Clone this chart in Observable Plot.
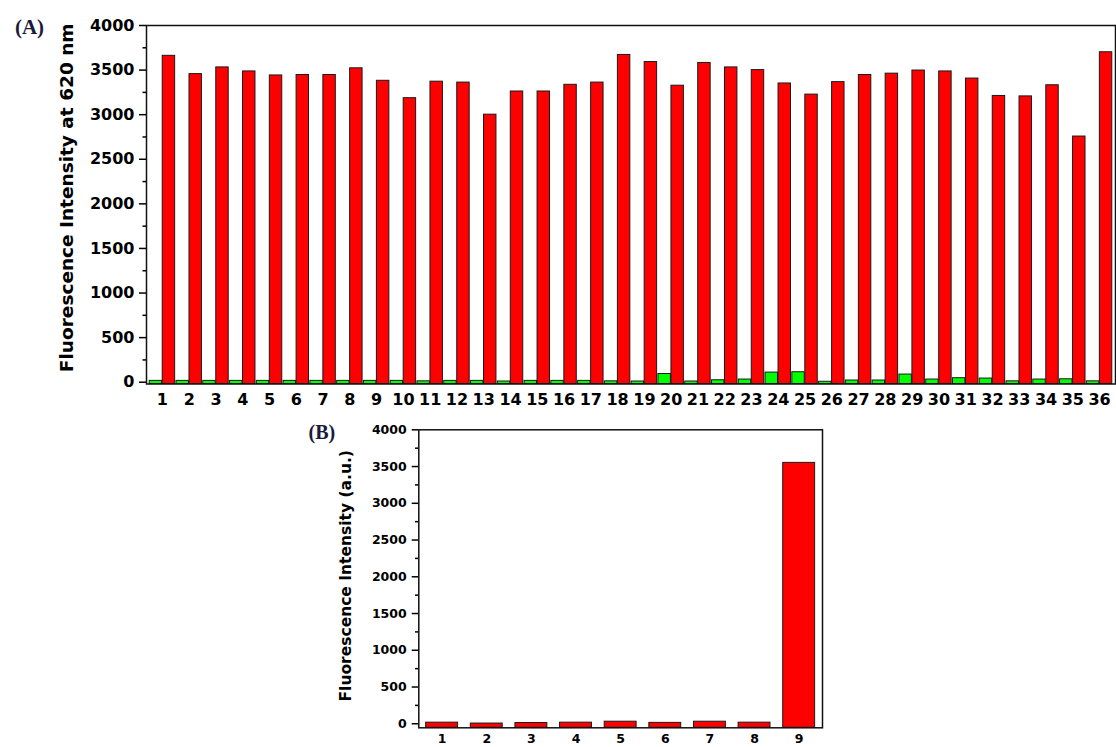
<!DOCTYPE html>
<html><head><meta charset="utf-8">
<script src="https://cdn.jsdelivr.net/npm/d3@7"></script>
<script src="https://cdn.jsdelivr.net/npm/@observablehq/plot@0.6"></script>
<style>
html,body{margin:0;padding:0;background:#fff;}
#wrap{position:relative;width:1116px;height:747px;overflow:hidden;background:#fff;}
#a{position:absolute;left:0;top:0;}
#b{position:absolute;left:0;top:410px;}
</style></head><body><div id="wrap"><div id="a"></div><div id="b"></div></div>
<script>
// ---- Panel A data ----
const samplesA = [1,2,3,4,5,6,7,8,9,10,11,12,13,14,15,16,17,18,19,20,21,22,23,24,25,26,27,28,29,30,31,32,33,34,35,36];
const greenA = [15,15,15,15,15,15,15,15,15,15,10,15,15,8,15,15,15,10,8,92,8,22,30,108,112,5,19,19,86,30,45,41,10,30,33,10];
const redA = [3660,3455,3530,3485,3440,3445,3445,3520,3380,3185,3370,3360,3000,3260,3260,3335,3360,3670,3590,3325,3580,3530,3500,3350,3225,3365,3445,3460,3495,3485,3405,3210,3205,3330,2755,3700];
const yTicksA = [0,500,1000,1500,2000,2500,3000,3500,4000];
const yMinorA = [250,750,1250,1750,2250,2750,3250,3750];
const yLabelA = "Fluorescence Intensity at 620 nm";
const panelA = "(A)";

// ---- Panel B data ----
const samplesB = [1,2,3,4,5,6,7,8,9];
const valuesB = [15,3,10,15,28,12,28,15,3550];
const yTicksB = [0,500,1000,1500,2000,2500,3000,3500,4000];
const yMinorB = [250,750,1250,1750,2250,2750,3250,3750];
const yLabelB = "Fluorescence Intensity (a.u.)";
const panelB = "(B)";

const rowsA = samplesA.map((s, i) => ({sample: s, green: greenA[i], red: redA[i]}));
const rowsB = samplesB.map((s, i) => ({sample: s, value: valuesB[i]}));

const yMinA = -20, yMinB = -55;
const fmt = d => String(d);

const plotA = Plot.plot({
  width: 1116, height: 410,
  marginTop: 25, marginBottom: 26.5, marginLeft: 146, marginRight: 1,
  style: {fontFamily: "DejaVu Sans", fontWeight: "bold", fontSize: "16px", background: "#fff", color: "#000", overflow: "visible"},
  x: {type: "band", domain: samplesA, paddingInner: 0.05, paddingOuter: 0.12, round: false},
  y: {domain: [yMinA, 4000]},
  marks: [
    Plot.barY(rowsA, {x: "sample", y1: () => yMinA, y2: "green", fill: "#00ff00", stroke: "#1a1a1a", strokeWidth: 1, insetRight: 13}),
    Plot.barY(rowsA, {x: "sample", y1: () => yMinA, y2: "red", fill: "#ff0000", stroke: "#1a1a1a", strokeWidth: 1, insetLeft: 13}),
    Plot.axisX({tickSize: 0, tickPadding: 10, fontSize: 16, tickFormat: fmt, label: null}),
    Plot.axisY({ticks: yTicksA, tickSize: 7, tickPadding: 5, strokeWidth: 1.5, fontSize: 16, tickFormat: fmt, label: null}),
    Plot.axisY({ticks: yMinorA, tickSize: 3.5, tickFormat: () => "", strokeWidth: 1.5, label: null}),
    Plot.frame({stroke: "#111", strokeWidth: 1.5}),
    Plot.text([yLabelA], {text: d => d, frameAnchor: "left", rotate: -90, dx: -79, dy: -7, fontSize: 18.5, textAnchor: "middle", lineAnchor: "middle"}),
    Plot.text([panelA], {text: d => d, frameAnchor: "top-left", dx: -117, dy: 2, fontFamily: "Liberation Serif", fontSize: 21, fill: "#1a1a3a", textAnchor: "middle", lineAnchor: "middle"})
  ]
});
document.getElementById("a").appendChild(plotA);

const plotB = Plot.plot({
  width: 1116, height: 337,
  marginTop: 19.3, marginBottom: 19.7, marginLeft: 418.3, marginRight: 294,
  style: {fontFamily: "DejaVu Sans", fontWeight: "bold", fontSize: "12.5px", background: "transparent", color: "#000", overflow: "visible"},
  x: {type: "band", domain: samplesB, paddingInner: 0.285, paddingOuter: 0.165, round: false},
  y: {domain: [yMinB, 4000]},
  marks: [
    Plot.barY(rowsB, {x: "sample", y1: () => yMinB, y2: "value", fill: "#ff0000", stroke: "#1a1a1a", strokeWidth: 1}),
    Plot.axisX({tickSize: 0, tickPadding: 6, fontSize: 12.5, tickFormat: fmt, label: null}),
    Plot.axisY({ticks: yTicksB, tickSize: 6.6, tickPadding: 5.5, strokeWidth: 1.5, fontSize: 12.5, tickFormat: fmt, label: null}),
    Plot.axisY({ticks: yMinorB, tickSize: 3.3, tickFormat: () => "", strokeWidth: 1.5, label: null}),
    Plot.frame({stroke: "#111", strokeWidth: 1.5}),
    Plot.text([yLabelB], {text: d => d, frameAnchor: "left", rotate: -90, dx: -73, dy: -3, fontSize: 15.5, textAnchor: "middle", lineAnchor: "middle"}),
    Plot.text([panelB], {text: d => d, frameAnchor: "top-left", dx: -97, dy: 3, fontFamily: "Liberation Serif", fontSize: 20, fill: "#1a1a3a", textAnchor: "middle", lineAnchor: "middle"})
  ]
});
document.getElementById("b").appendChild(plotB);
</script></body></html>
